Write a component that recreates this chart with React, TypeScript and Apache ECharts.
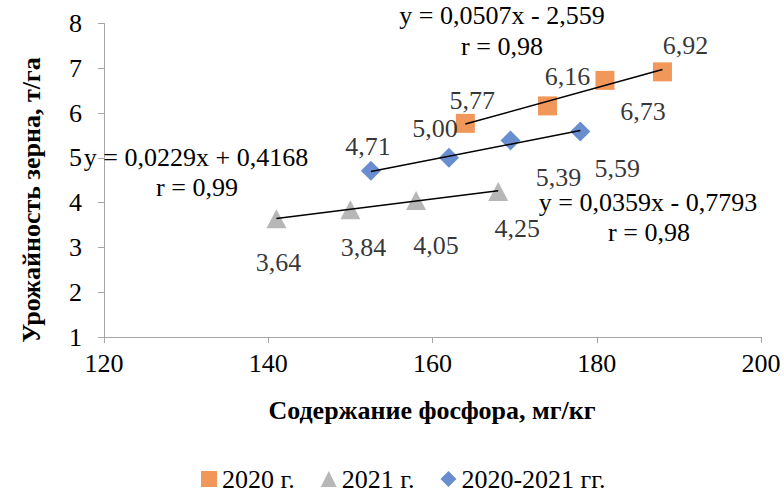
import React, { useEffect, useRef } from "react";
import * as echarts from "echarts";

// ---- data ----
const x2020 = [164, 174, 181, 188];
const y2020 = [5.77, 6.16, 6.73, 6.92];
const x2021 = [141, 150, 158, 168];
const y2021 = [3.64, 3.84, 4.05, 4.25];
const xAll = [152.5, 162, 169.5, 178];
const yAll = [4.71, 5.0, 5.39, 5.59];

const trend2020 = [0.0507, -2.559];
const trend2021 = [0.0229, 0.4168];
const trendAll = [0.0359, -0.7793];

const seriesNames = ["2020 г.", "2021 г.", "2020-2021 гг."];
const eqTexts = [
  "y = 0,0507x - 2,559",
  "y = 0,0229x + 0,4168",
  "y = 0,0359x - 0,7793",
];
const rTexts = ["r = 0,98", "r = 0,99", "r = 0,98"];
const xTitle = "Содержание фосфора, мг/кг";
const yTitle = "Урожайность зерна, т/га";

// ---- label placement (styling) ----
const off2020 = [[7, -23], [20, -29], [38, 31], [23, -26]];
const off2021 = [[2, 44], [13, 38], [20, 45], [19, 37]];
const offAll = [[-3, -24], [-14, -29], [48, 37], [37, 37]];

const FONT = "Liberation Serif";
const FS = 26;

function fmt(v: number) {
  return v.toFixed(2).replace(".", ",");
}

function scatterData(xs: number[], ys: number[], offs: number[][]) {
  return xs.map((x, i) => ({
    value: [x, ys[i]],
    label: { offset: offs[i] },
  }));
}

function trendData(xs: number[], coef: number[]) {
  const lo = Math.min(...xs);
  const hi = Math.max(...xs);
  return [
    [lo, coef[0] * lo + coef[1]],
    [hi, coef[0] * hi + coef[1]],
  ];
}

export default function App() {
  const ref = useRef<HTMLDivElement>(null);
  useEffect(() => {
    if (!ref.current) return;
    document.body.style.margin = "0";
    const chart = echarts.init(ref.current, undefined, { renderer: "svg" });
    const labelCfg = {
      show: true,
      position: "inside",
      formatter: (p: any) => fmt(p.value[1]),
      color: "#000",
      fontFamily: FONT,
      fontSize: FS,
    };
    const trendLine = (name: string, data: number[][]) => ({
      name,
      type: "line",
      data,
      symbol: "none",
      silent: true,
      z: 5,
      lineStyle: { color: "#000", width: 1.5 },
    });
    const txt = (text: string, x: number, y: number, bold = false, rot = 0) => ({
      type: "text",
      x,
      y,
      rotation: rot,
      z: 10,
      style: {
        text,
        fill: "#000",
        font: `${bold ? "bold " : ""}${FS}px '${FONT}'`,
        textAlign: "center",
        textVerticalAlign: "middle",
      },
    });
    chart.setOption({
      animation: false,
      textStyle: { fontFamily: FONT },
      grid: { left: 104, right: 23, top: 23.5, bottom: 155 },
      xAxis: {
        type: "value",
        min: 120,
        max: 200,
        interval: 20,
        splitLine: { show: false },
        axisLine: { lineStyle: { color: "#a6a6a6", width: 1 } },
        axisTick: { show: true, length: 6, lineStyle: { color: "#a6a6a6" } },
        axisLabel: { color: "#000", fontFamily: FONT, fontSize: FS, margin: 13 },
      },
      yAxis: {
        type: "value",
        min: 1,
        max: 8,
        interval: 1,
        splitLine: { show: false },
        axisLine: { show: true, lineStyle: { color: "#a6a6a6", width: 1 } },
        axisTick: { show: true, length: 6, lineStyle: { color: "#a6a6a6" } },
        axisLabel: { color: "#000", fontFamily: FONT, fontSize: FS, margin: 22 },
      },
      legend: {
        left: 196,
        top: 461,
        itemWidth: 16,
        itemHeight: 16,
        itemGap: 26,
        textStyle: {
          color: "#000",
          fontFamily: FONT,
          fontSize: FS,
          lineHeight: 26,
        },
        data: [
          { name: seriesNames[0], icon: "rect" },
          { name: seriesNames[1], icon: "triangle" },
          { name: seriesNames[2], icon: "diamond" },
        ],
      },
      series: [
        {
          name: seriesNames[0],
          type: "scatter",
          symbol: "rect",
          symbolSize: 19,
          itemStyle: { color: "#ed7d31" },
          label: labelCfg,
          data: scatterData(x2020, y2020, off2020),
        },
        {
          name: seriesNames[1],
          type: "scatter",
          symbol: "triangle",
          symbolSize: [20, 19],
          itemStyle: { color: "#a5a5a5" },
          label: labelCfg,
          data: scatterData(x2021, y2021, off2021),
        },
        {
          name: seriesNames[2],
          type: "scatter",
          symbol: "diamond",
          symbolSize: [20, 20],
          itemStyle: { color: "#4472c4" },
          label: labelCfg,
          data: scatterData(xAll, yAll, offAll),
        },
        trendLine("trend2020", trendData(x2020, trend2020)),
        trendLine("trend2021", trendData(x2021, trend2021)),
        trendLine("trendAll", trendData(xAll, trendAll)),
      ],
      graphic: [
        txt(eqTexts[0], 502, 15),
        txt(rTexts[0], 502, 46),
        txt(eqTexts[1], 196, 157),
        txt(rTexts[1], 197, 187),
        txt(eqTexts[2], 648, 202),
        txt(rTexts[2], 649, 232),
        txt(xTitle, 432, 410, true),
        txt(yTitle, 31, 200, true, Math.PI / 2),
      ],
    });
    return () => chart.dispose();
  }, []);
  return (
    <div
      ref={ref}
      style={{ position: "absolute", left: 0, top: 0, width: 784, height: 492 }}
    />
  );
}
